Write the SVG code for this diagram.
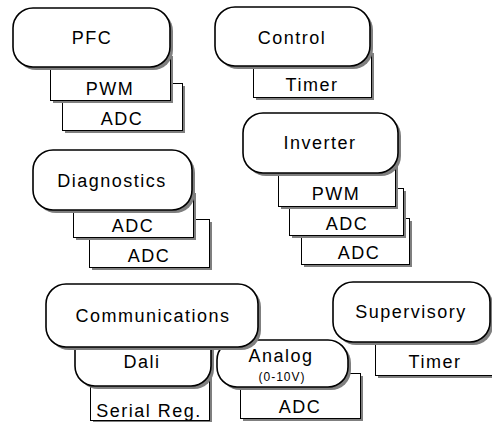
<svg xmlns="http://www.w3.org/2000/svg" width="492" height="423" viewBox="0 0 492 423">
<style>
text{font-family:"Liberation Sans",Arial,sans-serif;font-size:18px;letter-spacing:1.5px;text-anchor:middle;fill:#000}
.sm{font-size:12px;letter-spacing:1px}
.sh{fill:#7f7f7f;stroke:none}
.pill{fill:#fff;stroke:#000;stroke-width:1.6}
.box{fill:#fff;stroke:#000;stroke-width:1}
</style>
<rect width="492" height="423" fill="#fff"/>
<g id="connectors"/>
<g id="pfc">
<rect class="sh" x="65" y="86" width="120" height="47"/>
<rect class="box" x="62.5" y="83.5" width="120" height="47"/>
<rect class="sh" x="53" y="56" width="120" height="47"/>
<rect class="box" x="50.5" y="53.5" width="120" height="47"/>
<rect class="sh" x="16" y="11" width="157" height="59" rx="20"/>
<rect class="pill" x="13" y="8" width="157" height="59" rx="20"/>
<text x="92" y="44">PFC</text>
<text x="110" y="95">PWM</text>
<text x="122" y="125">ADC</text>
</g>
<g id="control">
<rect class="sh" x="256" y="53" width="118" height="47"/>
<rect class="box" x="253.5" y="50.5" width="118" height="47"/>
<rect class="sh" x="218" y="10" width="155" height="59" rx="20"/>
<rect class="pill" x="215" y="7" width="155" height="59" rx="20"/>
<text x="292" y="44">Control</text>
<text x="312" y="91">Timer</text>
</g>
<g id="diagnostics">
<rect class="sh" x="92" y="222" width="120" height="48"/>
<rect class="box" x="89.5" y="219.5" width="120" height="48"/>
<rect class="sh" x="76" y="193" width="120" height="47"/>
<rect class="box" x="73.5" y="190.5" width="120" height="47"/>
<rect class="sh" x="36" y="153" width="159" height="60" rx="20"/>
<rect class="pill" x="33" y="150" width="159" height="60" rx="20"/>
<text x="112" y="187">Diagnostics</text>
<text x="133" y="232">ADC</text>
<text x="149" y="262">ADC</text>
</g>
<g id="inverter">
<rect class="sh" x="304" y="221" width="108" height="46"/>
<rect class="box" x="301.5" y="218.5" width="108" height="46"/>
<rect class="sh" x="292" y="191" width="114" height="47"/>
<rect class="box" x="289.5" y="188.5" width="114" height="47"/>
<rect class="sh" x="281" y="162" width="117" height="47"/>
<rect class="box" x="278.5" y="159.5" width="117" height="47"/>
<rect class="sh" x="246" y="116" width="155" height="60" rx="20"/>
<rect class="pill" x="243" y="113" width="155" height="60" rx="20"/>
<text x="320" y="149">Inverter</text>
<text x="336" y="200">PWM</text>
<text x="347" y="230">ADC</text>
<text x="359" y="259">ADC</text>
</g>
<g id="communications">
<rect class="sh" x="93" y="365" width="119" height="57"/>
<rect class="box" x="90.5" y="362.5" width="119" height="58"/>
<rect class="sh" x="78" y="323" width="136" height="66" rx="20"/>
<rect class="pill" x="75" y="320" width="136" height="66" rx="20"/>
<rect class="sh" x="243" y="376" width="120" height="45"/>
<rect class="box" x="240.5" y="373.5" width="120" height="45"/>
<rect class="sh" x="220" y="343" width="131" height="47" rx="20"/>
<rect class="pill" x="217" y="340" width="131" height="47" rx="20"/>
<rect class="sh" x="49" y="287" width="212" height="63" rx="20"/>
<rect class="pill" x="46" y="284" width="212" height="63" rx="20"/>
<text x="153" y="322">Communications</text>
<text x="142" y="368">Dali</text>
<text x="149" y="417">Serial Reg.</text>
<text x="281" y="362">Analog</text>
<text class="sm" x="282" y="381">(0-10V)</text>
<text x="300" y="413">ADC</text>
</g>
<g id="supervisory">
<rect class="sh" x="378" y="331" width="120" height="47"/>
<rect class="box" x="375.5" y="328.5" width="120" height="47"/>
<rect class="sh" x="336" y="285" width="157" height="60" rx="20"/>
<rect class="pill" x="333" y="282" width="157" height="60" rx="20"/>
<text x="411" y="318">Supervisory</text>
<text x="435" y="368">Timer</text>
</g>
</svg>
